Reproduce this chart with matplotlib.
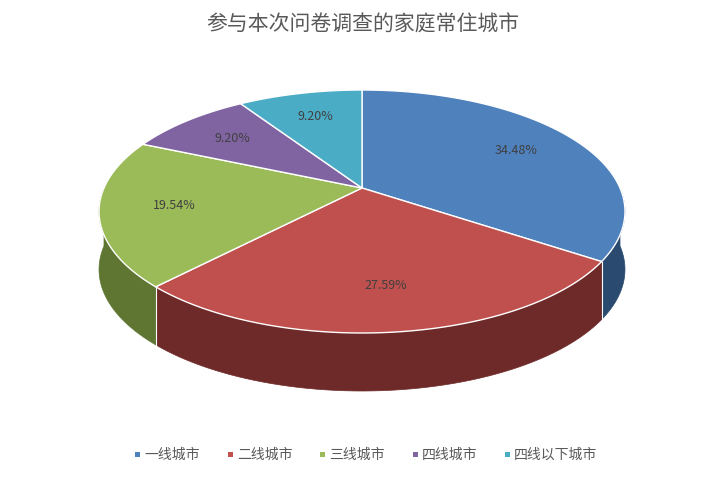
import numpy as np
import matplotlib
matplotlib.use("Agg")
import matplotlib.pyplot as plt
from matplotlib.patches import Polygon, Rectangle

plt.rcParams['font.family'] = ['Noto Sans CJK SC', 'DejaVu Sans']

title = "参与本次问卷调查的家庭常住城市"
categories = ["一线城市", "二线城市", "三线城市", "四线城市", "四线以下城市"]
values = [34.48, 27.59, 19.54, 9.20, 9.20]
labels = ["34.48%", "27.59%", "19.54%", "9.20%", "9.20%"]
colors = ["#4F81BD", "#C0504D", "#9BBB59", "#8064A2", "#4BACC6"]
side_colors = ["#2A4A70", "#6E2A28", "#5E7632", "#4A3961", "#2B6B7C"]

W, H = 726, 478
fig = plt.figure(figsize=(W/100, H/100), dpi=100)
ax = fig.add_axes([0, 0, 1, 1])
ax.set_xlim(0, W); ax.set_ylim(H, 0); ax.axis('off')

cx, cy, depth = 362, 188, 58
A, C, K = -80.6, 0.1934, 258

def proj(u, v, dy=0):
    d = C*v + 1
    return cx + K*u/d, (A*v + cy)/d + dy

def pt(t, dy=0, f=1.0):
    r = np.radians(t)
    return proj(f*np.cos(r), f*np.sin(r), dy)

total = sum(values)
angles = [90]
for v in values:
    angles.append(angles[-1] - 360*v/total)

for i in range(len(values)):
    a, b = angles[i], angles[i+1]
    lo, hi = max(b, -180), min(a, 0)
    if hi > lo:
        ts = np.linspace(hi, lo, 60)
        top = [pt(t) for t in ts]
        bot = [pt(t, depth) for t in ts[::-1]]
        ax.add_patch(Polygon(top + bot, closed=True, facecolor=side_colors[i],
                             edgecolor=side_colors[i], lw=0.5))
for i in range(1, len(values)):
    a = angles[i]
    if -180 < a < 0:
        x, y = pt(a)
        ax.plot([x, x], [y, y+depth], color="white", lw=0.8)

for i in range(len(values)):
    a, b = angles[i], angles[i+1]
    ts = np.linspace(a, b, 100)
    poly = [proj(0, 0)] + [pt(t) for t in ts]
    ax.add_patch(Polygon(poly, closed=True, facecolor=colors[i],
                         edgecolor="white", lw=1.0))
    m = (a + b) / 2
    lx, ly = pt(m, f=0.72)
    ax.text(lx, ly, labels[i], ha='center', va='center',
            fontsize=9, color="#404040")

ax.text(W/2, 25, title, ha='center', va='center', fontsize=15, color="#595959")

lx0 = [135, 228, 320, 413, 505]
for x, c, name in zip(lx0, colors, categories):
    ax.add_patch(Rectangle((x, 452), 5, 5, facecolor=c, edgecolor='none'))
    ax.text(x + 9, 455, name, ha='left', va='center', fontsize=10, color="#595959")

fig.savefig("out.png", dpi=100)
